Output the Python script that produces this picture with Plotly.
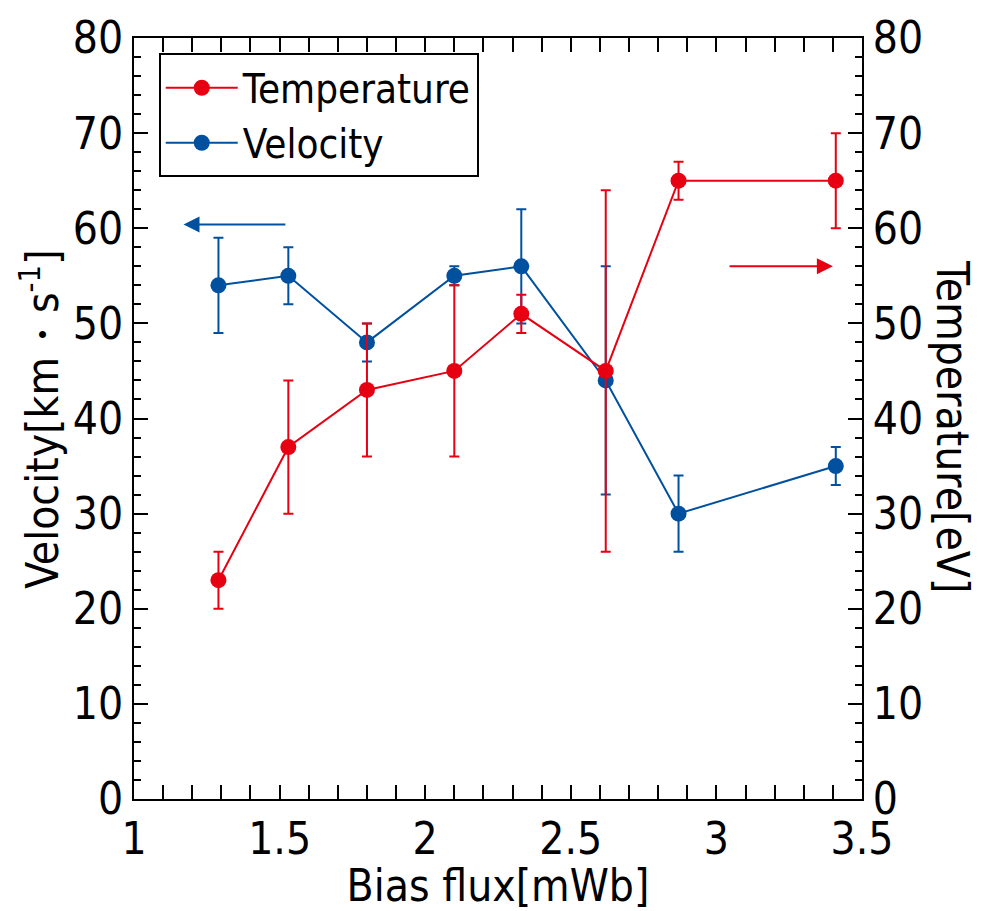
import plotly.graph_objects as go

bias_flux = [1.29, 1.53, 1.80, 2.10, 2.33, 2.62, 2.87, 3.41]
temperature = [23, 37, 43, 45, 51, 45, 65, 65]
temp_err_plus = [3, 7, 7, 9, 2, 19, 2, 5]
temp_err_minus = [3, 7, 7, 9, 2, 19, 2, 5]
velocity = [54, 55, 48, 55, 56, 44, 30, 35]
vel_err_plus = [5, 3, 2, 1, 6, 12, 4, 2]
vel_err_minus = [5, 3, 2, 1, 6, 12, 4, 2]

RED = "#E60012"
BLUE = "#0050A0"
FONT = "Liberation Sans Narrow, DejaVu Sans Condensed, Open Sans, sans-serif"
FS = 44

fig = go.Figure()
fig.add_trace(go.Scatter(
    x=bias_flux, y=temperature, name="Temperature", yaxis="y2",
    mode="lines+markers",
    line=dict(color=RED, width=2),
    marker=dict(color=RED, size=16),
    error_y=dict(type="data", symmetric=False, array=temp_err_plus,
                 arrayminus=temp_err_minus, color=RED, thickness=2, width=5),
))
fig.add_trace(go.Scatter(
    x=bias_flux, y=velocity, name="Velocity", yaxis="y",
    mode="lines+markers",
    line=dict(color=BLUE, width=2),
    marker=dict(color=BLUE, size=16),
    error_y=dict(type="data", symmetric=False, array=vel_err_plus,
                 arrayminus=vel_err_minus, color=BLUE, thickness=2, width=5),
))

axis_common = dict(
    showline=True, linecolor="black", linewidth=2,
    ticks="inside", ticklen=14, tickwidth=2, tickcolor="black",
    showgrid=False, zeroline=False,
    tickfont=dict(family=FONT, size=FS, color="black"),
)

fig.update_layout(
    width=993, height=911,
    margin=dict(l=134, r=131, t=33, b=110),
    paper_bgcolor="white", plot_bgcolor="white",
    font=dict(family=FONT, size=FS, color="black"),
    xaxis=dict(range=[1, 3.5], dtick=0.5, tick0=1, mirror="allticks",
               minor=dict(dtick=0.1, ticks="inside", ticklen=7, tickwidth=2, tickcolor="black"),
               title=dict(text="Bias flux[mWb]", font=dict(family=FONT, size=FS), standoff=4),
               **axis_common),
    yaxis=dict(range=[0, 80], dtick=10, tick0=0, side="left",
               minor=dict(dtick=2, ticks="inside", ticklen=7, tickwidth=2, tickcolor="black"),
               **axis_common),
    yaxis2=dict(range=[0, 80], dtick=10, tick0=0, side="right", overlaying="y",
                minor=dict(dtick=2, ticks="inside", ticklen=7, tickwidth=2, tickcolor="black"),
                **axis_common),
    showlegend=True,
    legend=dict(x=0.034, y=0.98, xanchor="left", yanchor="top",
                bordercolor="black", borderwidth=2, bgcolor="white",
                itemwidth=72,
                font=dict(family=FONT, size=40, color="black")),
    annotations=[
        dict(text="Velocity[km・s<sup>-1</sup>]", xref="paper", yref="paper",
             x=-0.13, y=0.5, textangle=-90, showarrow=False,
             xanchor="center", yanchor="middle", font=dict(family=FONT, size=FS)),
        dict(text="Temperature[eV]", xref="paper", yref="paper",
             x=1.125, y=0.49, textangle=90, showarrow=False,
             xanchor="center", yanchor="middle", font=dict(family=FONT, size=FS)),
        dict(x=1.17, y=60.4, ax=1.525, ay=60.4, xref="x", yref="y",
             axref="x", ayref="y", showarrow=True, arrowhead=2,
             arrowsize=1.6, arrowwidth=2, arrowcolor=BLUE, text=""),
        dict(x=3.40, y=56, ax=3.04, ay=56, xref="x", yref="y2",
             axref="x", ayref="y2", showarrow=True, arrowhead=2,
             arrowsize=1.6, arrowwidth=2, arrowcolor=RED, text=""),
    ],
)

fig.write_html("out.html")
